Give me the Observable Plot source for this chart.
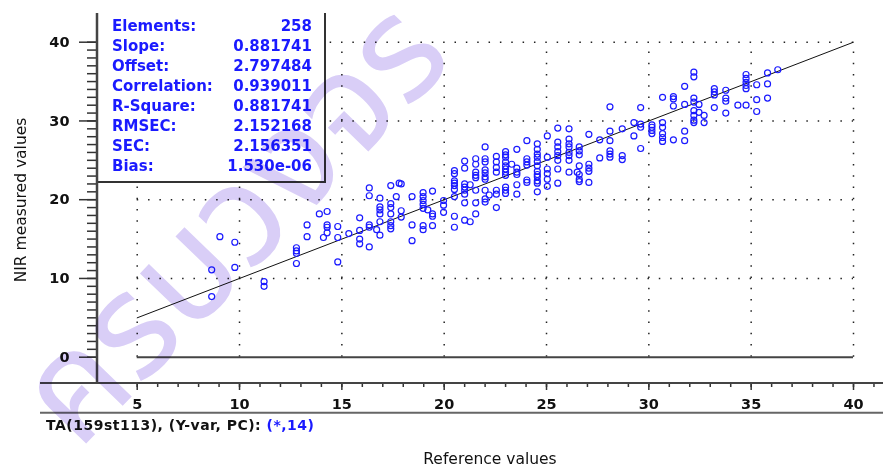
<!DOCTYPE html>
<html><head><meta charset="utf-8">
<script src="https://cdn.jsdelivr.net/npm/d3@7"></script>
<script src="https://cdn.jsdelivr.net/npm/@observablehq/plot@0.6"></script>
<style>
html,body{margin:0;padding:0;background:#fff;}
#chart{width:883px;height:469px;}
</style></head><body><div id="chart"></div>
<script>
// ---- Data ----
const refColumns = [8.64, 9.04, 9.77, 11.2, 12.78, 13.3, 13.9, 14.1, 14.28, 14.8, 15.34, 15.87, 16.34, 16.7, 16.86, 17.39, 17.66, 17.8, 17.9, 18.43, 18.97, 19.2, 19.43, 19.97, 20.5, 21.0, 21.27, 21.54, 22.0, 22.2, 22.55, 23.0, 23.3, 23.55, 24.04, 24.55, 25.04, 25.55, 26.1, 26.5, 26.6, 27.07, 27.6, 28.1, 28.7, 29.27, 29.6, 30.15, 30.67, 31.2, 31.75, 32.2, 32.45, 32.7, 33.2, 33.76, 34.35, 34.75, 35.27, 35.8, 36.3];
const nirByColumn = [
  [11.1, 7.7], [15.3], [14.6, 11.4], [9.6, 9.0], [13.9, 13.5, 13.2, 11.9], [16.8, 15.3], [18.2], [15.2],
  [18.5, 16.8, 16.5, 15.8], [16.6, 15.2, 12.1], [15.7], [17.7, 16.1, 15.0, 14.4], [21.5, 20.5, 16.8, 16.5, 14.0],
  [16.2], [20.2, 19.1, 18.7, 18.2, 17.2, 15.5], [21.8, 19.5, 19.0, 18.2, 17.2, 16.7, 16.3], [20.4], [22.1],
  [22.0, 18.6, 17.8], [20.4, 16.8, 14.8], [20.9, 20.4, 19.9, 19.4, 18.9, 16.7, 16.2], [18.7], [21.1, 18.2, 17.9, 16.7],
  [19.9, 19.3, 18.4], [23.7, 23.3, 22.4, 22.1, 21.8, 21.3, 20.4, 17.9, 16.5], [24.9, 24.0, 22.0, 21.6, 21.2, 20.7, 19.6, 17.4],
  [21.9, 17.2], [25.2, 24.5, 23.5, 23.1, 22.8, 21.2, 19.6, 18.2], [26.7, 25.2, 24.8, 23.8, 23.4, 22.9, 22.6, 21.2, 20.1, 19.7],
  [20.6], [25.5, 24.8, 24.1, 23.5, 21.2, 20.7, 19.0], [26.1, 25.7, 25.4, 24.8, 24.3, 23.9, 23.5, 23.1, 21.6, 21.2, 20.8],
  [24.5], [26.4, 24.0, 23.5, 23.2, 21.9, 20.7], [27.5, 25.2, 24.8, 24.4, 22.5, 22.2],
  [27.1, 26.4, 25.8, 25.4, 24.85, 24.3, 23.6, 23.2, 22.9, 22.4, 22.1, 21.0], [28.1, 25.4, 23.9, 23.3, 22.6, 21.7],
  [29.1, 27.3, 26.7, 26.1, 25.6, 25.0, 23.9, 22.1], [29.0, 27.7, 27.1, 26.7, 26.0, 25.6, 25.0, 23.5], [23.5],
  [26.7, 26.2, 25.7, 24.3, 23.2, 22.6, 22.3], [28.3, 24.5, 24.0, 23.6, 22.2], [27.6, 25.3],
  [31.8, 28.7, 27.5, 26.2, 25.8, 25.4], [29.0, 25.6, 25.1], [29.8, 28.1], [31.7, 29.6, 29.2, 26.5], [29.5, 29.2, 28.8, 28.4],
  [33.0, 29.8, 29.2, 28.4, 27.9, 27.4], [33.1, 32.8, 31.9, 27.6], [34.4, 32.1, 28.7, 27.5],
  [36.2, 35.6, 32.9, 32.4, 31.3, 30.7, 30.1, 29.8], [32.1, 31.1], [30.7, 29.8], [34.1, 33.7, 33.3, 31.7],
  [33.9, 32.9, 32.5, 31.0], [32.0], [35.9, 35.4, 34.9, 34.5, 34.1, 32.0], [34.6, 32.7, 31.2], [36.1, 34.7, 32.9], [36.5]
];
const targetLineX = [5, 40];
const targetLineY = [5, 40];
const xTicks = [5, 10, 15, 20, 25, 30, 35, 40];
const yTicks = [0, 10, 20, 30, 40];
const xMinorTicks = d3.range(5, 42, 1);
const yMinorTicks = d3.range(0, 41, 1);
const statLabels = ["Elements:", "Slope:", "Offset:", "Correlation:", "R-Square:", "RMSEC:", "SEC:", "Bias:"];
const statValues = ["258", "0.881741", "2.797484", "0.939011", "0.881741", "2.152168", "2.156351", "1.530e-06"];
const captionText = "TA(159st113), (Y-var, PC): ";
const captionValue = "(*,14)";
const xTitle = "Reference values";
const yTitle = "NIR measured values";
const watermarkText = "ครบวงจร";

// ---- Build ----
const points = refColumns.flatMap((x, i) => nirByColumn[i].map(y => ({x, y})));
const target = targetLineX.map((x, i) => ({x, y: targetLineY[i]}));
const xDom = [xTicks[0], xTicks[xTicks.length - 1]];
const yDom = [yTicks[0], yTicks[yTicks.length - 1]];
const W = 883, H = 469;
const axisColor = "#333";

const plot = Plot.plot({
  width: W, height: H,
  marginLeft: 97, marginRight: 30, marginTop: 13, marginBottom: 86,
  style: {fontFamily: "'DejaVu Sans', sans-serif", fontWeight: "bold", fontSize: "14.5px", color: "#111", background: "white"},
  x: {domain: xDom, insetLeft: 39.7},
  y: {domain: yDom, insetTop: 28.7, insetBottom: 26.3},
  marks: [
    Plot.ruleY(yTicks.filter(d => d > yDom[0]), {x1: xDom[0], x2: xDom[1], stroke: "#222", strokeWidth: 1.5, strokeDasharray: "1.5,9.85"}),
    Plot.ruleX(xTicks, {y1: yDom[0], y2: yDom[1], stroke: "#222", strokeWidth: 1.5, strokeDasharray: "1.5,9.75"}),
    Plot.ruleY([yDom[0]], {x1: xDom[0], x2: xDom[1], stroke: "#444", strokeWidth: 2}),
    Plot.line(target, {x: "x", y: "y", stroke: "#111", strokeWidth: 1}),
    Plot.dot(points, {x: "x", y: "y", r: 3, stroke: "#1a1aff", strokeWidth: 1.2, fill: "none"}),
    Plot.axisX(xMinorTicks, {anchor: "bottom", tickSize: 4, fill: "none", stroke: axisColor, strokeWidth: 1.5, label: null}),
    Plot.axisX(xTicks, {anchor: "bottom", tickSize: 7, tickPadding: 8, stroke: axisColor, strokeWidth: 1.5, fill: "#111", label: null}),
    Plot.axisY(yMinorTicks, {anchor: "left", tickSize: 10, fill: "none", stroke: axisColor, strokeWidth: 1.5, label: null}),
    Plot.axisY(yTicks, {anchor: "left", tickSize: 18, tickPadding: 10, stroke: axisColor, strokeWidth: 1.5, fill: "#111", label: null})
  ]
});
document.getElementById("chart").appendChild(plot);

const svg = d3.select(plot);
// statistics box
const box = svg.append("g");
box.append("rect").attr("x", 98.5).attr("y", 12).attr("width", 226).attr("height", 170).attr("fill", "white");
box.append("path").attr("d", "M325,13V182H97").attr("fill", "none").attr("stroke", "#333").attr("stroke-width", 2);
const statG = box.append("g").attr("font-family", "'DejaVu Sans', sans-serif").attr("font-weight", "bold").attr("font-size", 15).attr("fill", "#1a1aff");
statLabels.forEach((s, i) => {
  statG.append("text").attr("x", 112).attr("y", 31 + 20 * i).attr("text-anchor", "start").text(s);
  statG.append("text").attr("x", 312).attr("y", 31 + 20 * i).attr("text-anchor", "end").text(statValues[i]);
});
// frame lines
svg.append("path").attr("d", "M97,13V384").attr("stroke", "#444").attr("stroke-width", 2.5);
svg.append("path").attr("d", "M40,383H883").attr("stroke", "#444").attr("stroke-width", 2);
svg.append("path").attr("d", "M40,412.7H883").attr("stroke", "#666").attr("stroke-width", 2);
// caption
const cap = svg.append("text").attr("x", 46).attr("y", 430).attr("text-anchor", "start").attr("font-family", "'DejaVu Sans', sans-serif")
  .attr("font-weight", "bold").attr("font-size", 14).attr("letter-spacing", 0.5).attr("fill", "#111");
cap.append("tspan").text(captionText);
cap.append("tspan").attr("fill", "#1a1aff").text(captionValue);
// axis titles
svg.append("text").attr("x", 490).attr("y", 464).attr("text-anchor", "middle").attr("font-family", "'DejaVu Sans', sans-serif")
  .attr("font-weight", "normal").attr("font-size", 15.5).attr("fill", "#111").text(xTitle);
svg.append("text").attr("transform", "translate(26,200) rotate(-90)").attr("text-anchor", "middle").attr("font-family", "'DejaVu Sans', sans-serif")
  .attr("font-weight", "normal").attr("font-size", 15.5).attr("fill", "#111").text(yTitle);
// watermark
svg.append("text").attr("transform", "translate(78,452) rotate(-46)").attr("text-anchor", "start").attr("font-size", 145).attr("font-weight", "normal")
  .attr("font-family", "'Noto Sans Thai', 'Noto Sans', 'DejaVu Sans', sans-serif").attr("fill", "#d9cef7")
  .style("mix-blend-mode", "multiply").text(watermarkText);
</script></body></html>
